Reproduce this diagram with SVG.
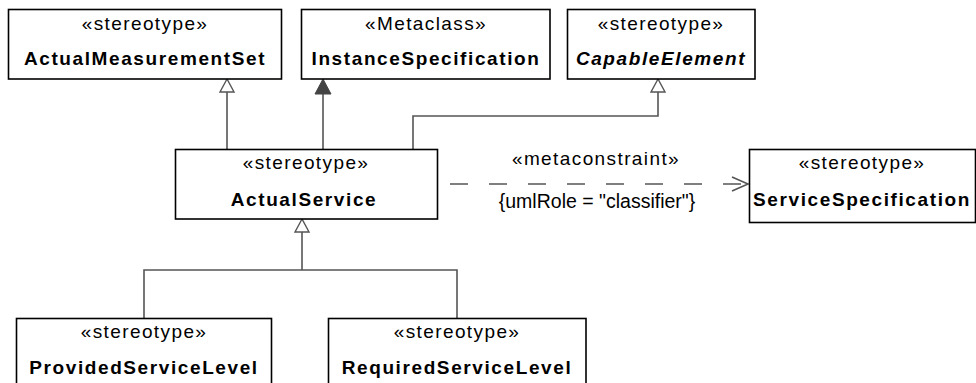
<svg xmlns="http://www.w3.org/2000/svg" width="976" height="383" viewBox="0 0 976 383">
<style>
.box{fill:#fff;stroke:#000;stroke-width:1.6}
.st{font-family:"Liberation Sans",Arial,sans-serif;font-size:19px;letter-spacing:1.4px;fill:#000;text-anchor:middle}
.nm{font-family:"Liberation Sans",Arial,sans-serif;font-size:19px;font-weight:bold;letter-spacing:1.6px;fill:#000;text-anchor:middle}
.lbl{font-family:"Liberation Sans",Arial,sans-serif;font-size:19.5px;fill:#000;text-anchor:middle}
.ln{fill:none;stroke:#555;stroke-width:1.6}
.tri{fill:#fff;stroke:#555;stroke-width:1.4}
</style>
<rect width="976" height="383" fill="#fff"/>
<g id="connectors">
  <line class="ln" x1="227" y1="149" x2="227" y2="92"/>
  <polygon class="tri" points="227,79 220,92 234,92"/>
  <line class="ln" x1="323" y1="149" x2="323" y2="93" stroke="#444" stroke-width="2.2"/>
  <polygon points="323,79 315,94 331,94" fill="#444" stroke="#444" stroke-width="1"/>
  <polyline class="ln" points="413,149 413,116 658,116 658,92"/>
  <polygon class="tri" points="658,79 651,92 665,92"/>
  <polyline class="ln" points="144,318 144,270 457,270 457,318"/>
  <line class="ln" x1="302" y1="270" x2="302" y2="232"/>
  <polygon class="tri" points="302,219 295,232 309,232"/>
  <line class="ln" x1="450" y1="184" x2="748" y2="184" stroke-dasharray="18 21"/>
  <polyline class="ln" points="732,177 748,184 732,191"/>
  <text class="st" x="596" y="165">«metaconstraint»</text>
  <text class="lbl" x="597" y="208">{umlRole = "classifier"}</text>
</g>
<g id="ActualMeasurementSet">
  <rect class="box" x="8.5" y="9.5" width="273" height="69.5"/>
  <text class="st" x="145" y="30">«stereotype»</text>
  <text class="nm" x="145" y="65">ActualMeasurementSet</text>
</g>
<g id="InstanceSpecification">
  <rect class="box" x="301.5" y="9.5" width="248.5" height="69.5"/>
  <text class="st" x="426" y="30">«Metaclass»</text>
  <text class="nm" x="426" y="65">InstanceSpecification</text>
</g>
<g id="CapableElement">
  <rect class="box" x="567.5" y="9.5" width="187.5" height="69.5"/>
  <text class="st" x="661" y="30">«stereotype»</text>
  <text class="nm" x="661" y="65" font-style="italic">CapableElement</text>
</g>
<g id="ActualService">
  <rect class="box" x="175.5" y="149.5" width="262" height="69.5"/>
  <text class="st" x="306" y="169">«stereotype»</text>
  <text class="nm" x="304" y="206">ActualService</text>
</g>
<g id="ServiceSpecification">
  <rect class="box" x="749.5" y="149.5" width="226" height="73"/>
  <text class="st" x="862" y="169">«stereotype»</text>
  <text class="nm" x="862" y="206">ServiceSpecification</text>
</g>
<g id="ProvidedServiceLevel">
  <rect class="box" x="16.5" y="318.5" width="255" height="80"/>
  <text class="st" x="144" y="338">«stereotype»</text>
  <text class="nm" x="144" y="374">ProvidedServiceLevel</text>
</g>
<g id="RequiredServiceLevel">
  <rect class="box" x="328.5" y="318.5" width="257.5" height="80"/>
  <text class="st" x="457" y="338">«stereotype»</text>
  <text class="nm" x="457" y="374">RequiredServiceLevel</text>
</g>
</svg>
